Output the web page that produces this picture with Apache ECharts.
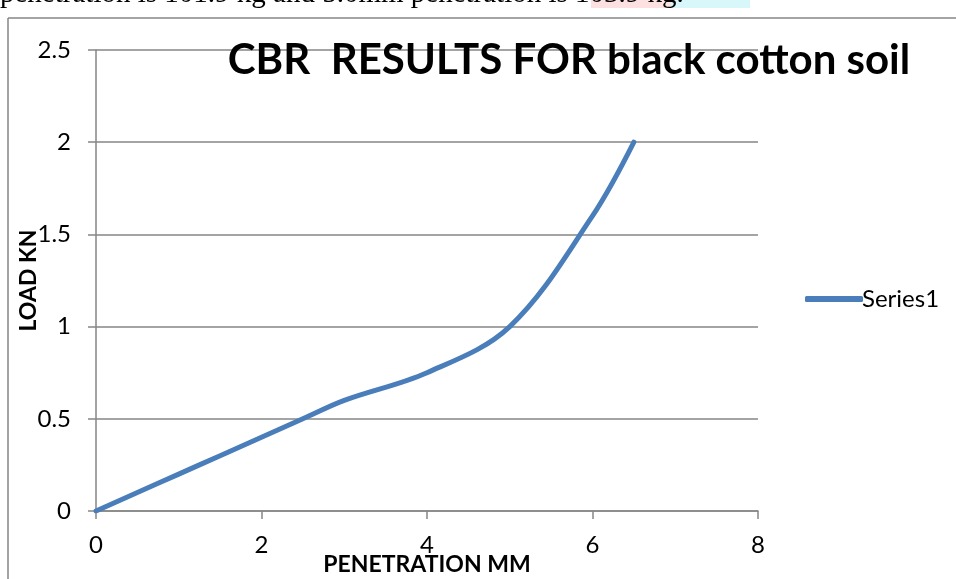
<!DOCTYPE html>
<html>
<head>
<meta charset="utf-8">
<script src="https://cdn.jsdelivr.net/npm/echarts@6/dist/echarts.min.js"></script>
<style>
  html, body { margin: 0; padding: 0; background: #fff; }
  #chart { width: 956px; height: 579px; }
</style>
</head>
<body>
<div id="chart"></div>
<script>
// CBR test: penetration (mm) against load (kN)
const penetration = [0, 0.5, 1, 1.5, 2, 2.5, 3, 4, 5, 6, 6.5];
const load = [0, 0.1, 0.2, 0.3, 0.4, 0.5, 0.6, 0.75, 1, 1.6, 2];
const seriesName = 'Series1';
const titleText = 'CBR  RESULTS FOR black cotton soil';
const xName = 'PENETRATION MM';
const yName = 'LOAD KN';
const docLine = 'penetration is 101.9 kg and 5.0mm penetration is 103.9 kg.';

const axisGrey = '#868686';
const lineBlue = '#4a7ebb';
const font = 'Lato, "Open Sans", sans-serif';

const chart = echarts.init(document.getElementById('chart'));
chart.setOption({
  animation: false,
  backgroundColor: '#fff',
  title: {
    text: titleText,
    left: 564, top: 34, textAlign: 'center',
    textStyle: { fontFamily: font, fontWeight: 'bold', fontSize: 42, color: '#000' }
  },
  legend: {
    data: [seriesName],
    left: 800, top: 282,
    itemWidth: 58, itemHeight: 6,
    icon: 'roundRect',
    itemGap: 4,
    textStyle: { fontFamily: font, fontSize: 24, color: '#000', padding: [0, 0, 0, -6] }
  },
  grid: { left: 96, right: 198, top: 50, bottom: 68, outerBoundsMode: 'none', containLabel: false },
  xAxis: {
    type: 'value', min: 0, max: 8, interval: 2,
    name: xName, nameLocation: 'middle', nameGap: 42, nameMoveOverlap: false,
    nameTextStyle: { fontFamily: font, fontWeight: 'bold', fontSize: 23, color: '#000' },
    axisLine: { show: true, onZero: false, lineStyle: { color: axisGrey, width: 1.5 } },
    axisTick: { show: true, length: 8, lineStyle: { color: axisGrey, width: 1.5 } },
    axisLabel: { fontFamily: font, fontSize: 24, color: '#000', margin: 22 },
    splitLine: { show: false }
  },
  yAxis: {
    type: 'value', min: 0, max: 2.5, interval: 0.5,
    name: yName, nameLocation: 'middle', nameGap: 56, nameRotate: 90, nameMoveOverlap: false,
    nameTextStyle: { fontFamily: font, fontWeight: 'bold', fontSize: 23, color: '#000' },
    axisLine: { show: true, lineStyle: { color: axisGrey, width: 1.5 } },
    axisTick: { show: true, length: 8, lineStyle: { color: axisGrey, width: 1.5 } },
    axisLabel: { fontFamily: font, fontSize: 24, color: '#000', margin: 25 },
    splitLine: { show: true, lineStyle: { color: axisGrey, width: 1.5 } }
  },
  series: [{
    name: seriesName,
    type: 'line',
    data: penetration.map((x, i) => [x, load[i]]),
    smooth: 0.35,
    showSymbol: false,
    lineStyle: { color: lineBlue, width: 5, cap: 'round' },
    itemStyle: { color: lineBlue }
  }],
  graphic: [
    // highlighted words in the line of text above the chart
    { type: 'rect', shape: { x: 591, y: 0, width: 80, height: 8 }, style: { fill: '#fde0e0' }, silent: true },
    { type: 'rect', shape: { x: 671, y: 0, width: 79, height: 8 }, style: { fill: '#d8f7fb' }, silent: true },
    {
      type: 'text', left: 0, top: -20, silent: true,
      style: { text: docLine, fontFamily: '"Liberation Serif", serif', fontSize: 29, fill: '#000' }
    },
    // chart frame
    { type: 'line', shape: { x1: 8, y1: 18, x2: 956, y2: 18 }, style: { stroke: axisGrey, lineWidth: 1.5 }, silent: true },
    { type: 'line', shape: { x1: 8, y1: 18, x2: 8, y2: 579 }, style: { stroke: axisGrey, lineWidth: 1.5 }, silent: true }
  ]
});
</script>
</body>
</html>
